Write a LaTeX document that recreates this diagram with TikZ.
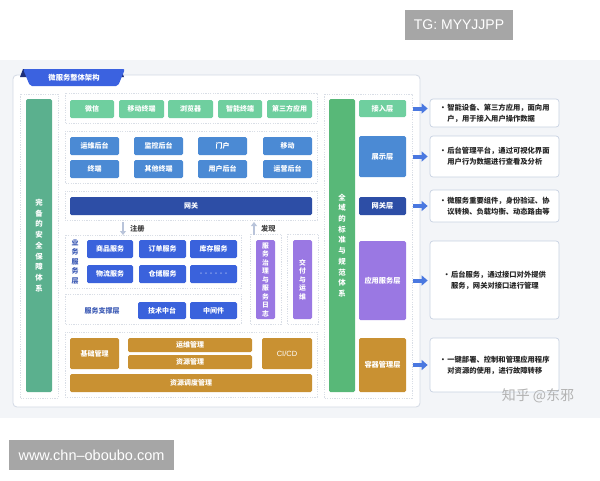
\documentclass[tikz,border=0pt]{standalone}
\usepackage{fontspec}
\setmainfont{Noto Sans CJK SC}
\newfontfamily\latfont{Liberation Sans}
\usetikzlibrary{arrows.meta,calc}
\definecolor{bgc}{HTML}{F3F5F8}
\definecolor{panelb}{HTML}{D3DAE5}
\definecolor{dcol}{HTML}{D9DEE6}
\definecolor{cGreenL}{HTML}{6FCF9F}
\definecolor{cBlueM}{HTML}{4B8AD4}
\definecolor{cNavy}{HTML}{2D4EA6}
\definecolor{cBlue}{HTML}{3A62DC}
\definecolor{cPurple}{HTML}{9A78E3}
\definecolor{cBrown}{HTML}{C99132}
\definecolor{cBarL}{HTML}{5BB08E}
\definecolor{cBarR}{HTML}{58B878}
\definecolor{cArrow}{HTML}{4A78E0}
\definecolor{cLabel}{HTML}{3D5BB5}
\definecolor{cTab}{HTML}{3B62E0}
\definecolor{cTabD}{HTML}{1E2F7A}
\definecolor{cDescB}{HTML}{C8D2E2}
\definecolor{cGrayBox}{HTML}{A6A6A6}
\definecolor{cSoft}{HTML}{B9C4DA}
\newcommand\BX[7]{\node[#6,minimum width={(#4-#2)*1pt},minimum height={(#5-#3)*1pt}] (#1) at ({(#2+#4)/2},{(#3+#5)/2}) {#7};}
\newcommand\DC[4]{\draw[dc] (#1,#2) rectangle (#3,#4);}
\tikzset{
  bx/.style={rounded corners=1.5pt,inner sep=0pt,text=white,font=\fontsize{7}{8}\selectfont\bfseries},
  gbox/.style={bx,fill=cGreenL},
  mbox/.style={bx,fill=cBlueM},
  nbox/.style={bx,fill=cNavy},
  sbox/.style={bx,fill=cBlue},
  pbox/.style={bx,fill=cPurple,align=center,font=\fontsize{6.8}{8.5}\selectfont\bfseries},
  brbox/.style={bx,fill=cBrown},
  bar/.style={bx,align=center,font=\fontsize{7.4}{10.7}\selectfont\bfseries},
  lay/.style={bx,font=\fontsize{7.2}{8}\selectfont\bfseries},
  desc/.style={draw=cDescB,line width=0.7pt,fill=white,rounded corners=3pt,inner sep=0pt,align=left,font=\fontsize{7.3}{11}\selectfont\bfseries,text=black!85},
  dc/.style={draw=dcol,line width=0.6pt,dash pattern=on 1.2pt off 1.2pt},
  flow/.style={cArrow,line width=4pt,-{Triangle[length=6pt,width=10pt]},shorten <=7pt,shorten >=2pt},
  soft/.style={cSoft,line width=2.5pt,-{Triangle[length=4pt,width=6pt]}},
  small/.style={inner sep=0pt,font=\fontsize{7.2}{8}\selectfont\bfseries,text=black!75},
}
\newcommand\bul{\makebox[8pt][l]{•}}
\begin{document}
\begin{tikzpicture}[x=1pt,y=-1pt]
\useasboundingbox (0,0) rectangle (600,480);
\fill[white] (0,0) rectangle (600,480);
\fill[bgc] (0,60) rectangle (600,418);
% watermark boxes
\node[fill=cGrayBox,text=white,inner sep=0pt,minimum width=108pt,minimum height=30pt,font=\latfont\fontsize{14}{16}\selectfont] (tg) at (459,25) {TG: MYYJJPP};
\node[fill=cGrayBox,text=white,inner sep=0pt,minimum width=165pt,minimum height=30pt,font=\latfont\fontsize{14.5}{16}\selectfont] (www) at (91.5,455) {www.chn–oboubo.com};
% main panel
\draw[panelb,fill=white,line width=0.8pt,rounded corners=4pt] (13,75) rectangle (420,407);
% title tab
\fill[cTabD] (20,77) -- (23,69) -- (28,69) -- (28,77) -- cycle;
\fill[cTabD] (124,77) -- (121,69) -- (116,69) -- (116,77) -- cycle;
\fill[cTab,rounded corners=2pt] (23,69) -- (125,69) -- (118,86) -- (30,86) -- cycle;
\node[inner sep=0pt,text=white,font=\fontsize{7.3}{8}\selectfont\bfseries] (title) at (74,77.5) {微服务整体架构};
% dashed containers
\DC{20}{94}{58}{398}
\DC{65}{93}{317}{123}
\DC{65}{131}{317}{183}
\DC{65}{191}{317}{220}
\DC{65}{235}{241}{288}
\DC{65}{294}{241}{324}
\DC{250}{234}{281}{324}
\DC{287}{234}{318}{324}
\DC{65}{332}{317}{397}
\DC{324}{94}{412}{398}
% left bar
\BX{lbar}{26}{99}{52}{392}{bar,fill=cBarL}{完\\备\\的\\安\\全\\保\\障\\体\\系}
% row 1
\BX{wx}{70}{100}{114}{118}{gbox}{微信}
\BX{ydzd}{119}{100}{164}{118}{gbox}{移动终端}
\BX{llq}{168}{100}{213}{118}{gbox}{浏览器}
\BX{znzd}{218}{100}{262}{118}{gbox}{智能终端}
\BX{dsf}{267}{100}{312}{118}{gbox}{第三方应用}
% row 2
\BX{ywht}{70}{137}{119}{155}{mbox}{运维后台}
\BX{jkht}{134}{137}{183}{155}{mbox}{监控后台}
\BX{mh}{198}{137}{247}{155}{mbox}{门户}
\BX{yd}{263}{137}{312}{155}{mbox}{移动}
\BX{zd}{70}{160}{119}{178}{mbox}{终端}
\BX{qtzd}{134}{160}{183}{178}{mbox}{其他终端}
\BX{yhht}{198}{160}{247}{178}{mbox}{用户后台}
\BX{yyht}{263}{160}{312}{178}{mbox}{运营后台}
% gateway
\BX{wg}{70}{197}{312}{215}{nbox}{网关}
% register / discover
\coordinate (zcA) at (123,222);
\coordinate (zcB) at (123,235);
\draw[soft] (zcA) -- (zcB);
\node[small,anchor=west] (zc) at (130,228.5) {注册};
\coordinate (fxA) at (254,235);
\coordinate (fxB) at (254,222);
\draw[soft] (fxA) -- (fxB);
\node[small,anchor=west] (fx) at (261,228.5) {发现};
% business services
\node[inner sep=0pt,align=center,text=cLabel,font=\fontsize{7}{9.5}\selectfont\bfseries] (ywfwc) at (75,261.5) {业\\务\\服\\务\\层};
\BX{spfw}{87}{240}{133}{258}{sbox}{商品服务}
\BX{ddfw}{139}{240}{186}{258}{sbox}{订单服务}
\BX{kcfw}{190}{240}{237}{258}{sbox}{库存服务}
\BX{wlfw}{87}{265}{133}{283}{sbox}{物流服务}
\BX{ccfw}{139}{265}{186}{283}{sbox}{仓储服务}
\BX{dots}{190}{265}{237}{283}{sbox,font=\fontsize{5}{6}\selectfont}{······}
% support layer
\node[inner sep=0pt,text=cLabel,font=\fontsize{7}{8}\selectfont\bfseries] (fwzcc) at (102,310.5) {服务支撑层};
\BX{jszt}{138}{302}{186}{319}{sbox}{技术中台}
\BX{zjj}{190}{302}{237}{319}{sbox}{中间件}
% purple
\BX{fwzl}{256}{240}{275}{319}{pbox}{服\\务\\治\\理\\与\\服\\务\\日\\志}
\BX{jfyw}{293}{240}{312}{319}{pbox}{交\\付\\与\\运\\维}
% brown
\BX{jcgl}{70}{338}{119}{369}{brbox}{基础管理}
\BX{ywgl}{128}{338}{252}{352}{brbox}{运维管理}
\BX{zygl}{128}{355}{252}{369}{brbox}{资源管理}
\BX{cicd}{262}{338}{312}{369}{brbox,font=\latfont\fontsize{7.5}{8}\selectfont}{CI/CD}
\BX{zyddgl}{70}{374}{312}{392}{brbox}{资源调度管理}
% right bar
\BX{rbar}{329}{99}{355}{392}{bar,fill=cBarR}{全\\域\\的\\标\\准\\与\\规\\范\\体\\系}
% layers
\BX{l1}{359}{100}{406}{117}{lay,fill=cGreenL}{接入层}
\BX{l2}{359}{136}{406}{177}{lay,fill=cBlueM}{展示层}
\BX{l3}{359}{197}{406}{215}{lay,fill=cNavy}{网关层}
\BX{l4}{359}{241}{406}{320}{lay,fill=cPurple}{应用服务层}
\BX{l5}{359}{338}{406}{392}{lay,fill=cBrown}{容器管理层}
% descriptions
\BX{d1}{430}{99}{559}{127}{desc}{\bul 智能设备、第三方应用，面向用\\\hspace*{8pt}户，用于接入用户操作数据\hspace*{7pt}}
\BX{d2}{430}{136}{559}{177}{desc}{\bul 后台管理平台，通过可视化界面\\\hspace*{8pt}用户行为数据进行查看及分析\hspace*{7pt}}
\BX{d3}{430}{190}{559}{222}{desc}{\bul 微服务重要组件，身份验证、协\\\hspace*{8pt}议转换、负载均衡、动态路由等}
\BX{d4}{430}{241}{559}{319}{desc}{\bul 后台服务，通过接口对外提供\\\hspace*{8pt}服务，网关对接口进行管理\hspace*{7pt}}
\BX{d5}{430}{338}{559}{392}{desc}{\bul 一键部署、控制和管理应用程序\\\hspace*{8pt}对资源的使用，进行故障转移\hspace*{7pt}}
% arrows
\draw[flow] (l1.east) -- (l1.east -| d1.west);
\draw[flow] (l2.east) -- (l2.east -| d2.west);
\draw[flow] (l3.east) -- (l3.east -| d3.west);
\draw[flow] (l4.east) -- (l4.east -| d4.west);
\draw[flow] (l5.east) -- (l5.east -| d5.west);
% watermark
\node[inner sep=0pt,text=black!30,font=\fontsize{14}{16}\selectfont] (zh) at (538,395.5) {知乎 @东邪};
\end{tikzpicture}
\end{document}
